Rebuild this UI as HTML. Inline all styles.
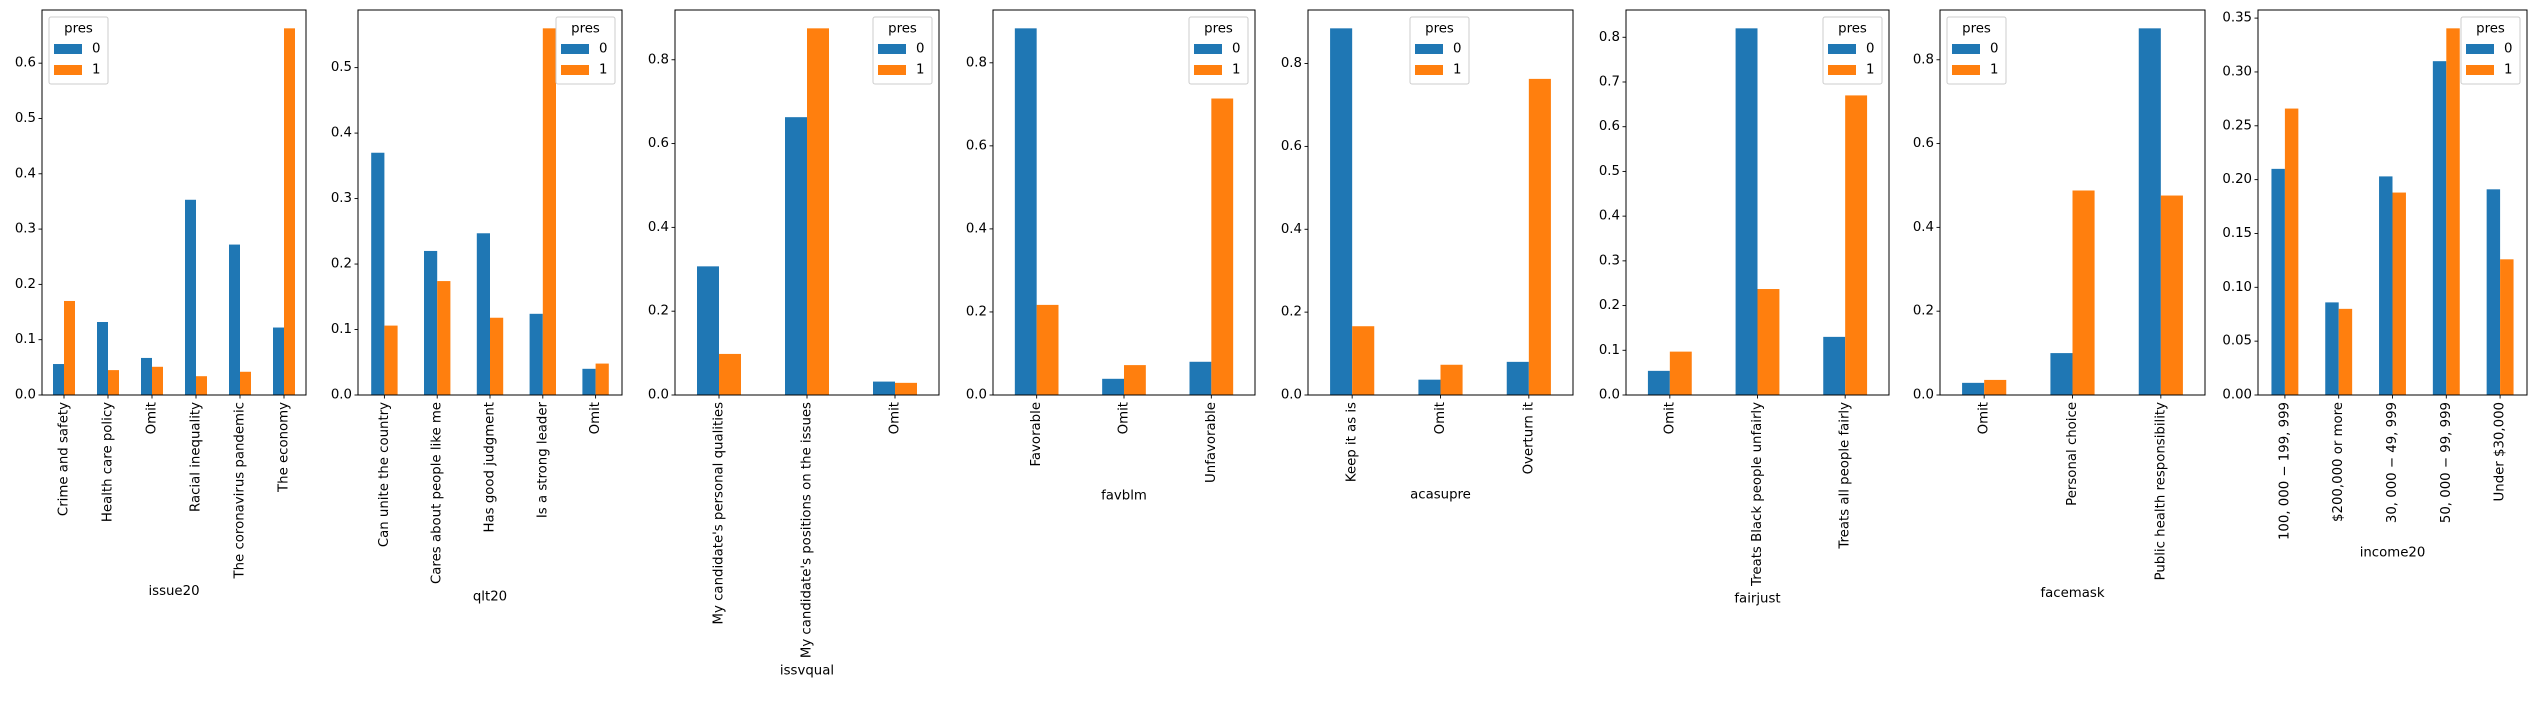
<!DOCTYPE html>
<html><head><meta charset="utf-8"><style>
html,body{margin:0;padding:0;background:#fff;}
svg{display:block;font-family:"DejaVu Sans","Liberation Sans",sans-serif;}
</style></head><body>
<svg id="chart" width="2531" height="701" viewBox="0 0 2531 701" xmlns="http://www.w3.org/2000/svg"></svg>
<script>
const titles = ["issue20","qlt20","issvqual","favblm","acasupre","fairjust","facemask","income20"];
const cats1 = ["Crime and safety","Health care policy","Omit","Racial inequality","The coronavirus pandemic","The economy"];
const cats2 = ["Can unite the country","Cares about people like me","Has good judgment","Is a strong leader","Omit"];
const cats3 = ["My candidate's personal qualities","My candidate's positions on the issues","Omit"];
const cats4 = ["Favorable","Omit","Unfavorable"];
const cats5 = ["Keep it as is","Omit","Overturn it"];
const cats6 = ["Omit","Treats Black people unfairly","Treats all people fairly"];
const cats7 = ["Omit","Personal choice","Public health responsibility"];
const cats8 = ["100, 000 \u2212 199, 999","$200,000 or more","30, 000 \u2212 49, 999","50, 000 \u2212 99, 999","Under $30,000"];
const pres0_1 = [0.056,0.132,0.067,0.353,0.272,0.122];
const pres1_1 = [0.170,0.045,0.051,0.034,0.042,0.663];
const pres0_2 = [0.370,0.220,0.247,0.124,0.040];
const pres1_2 = [0.106,0.174,0.118,0.560,0.048];
const pres0_3 = [0.307,0.663,0.032];
const pres1_3 = [0.098,0.875,0.029];
const pres0_4 = [0.883,0.039,0.080];
const pres1_4 = [0.217,0.072,0.714];
const pres0_5 = [0.885,0.037,0.080];
const pres1_5 = [0.166,0.073,0.763];
const pres0_6 = [0.054,0.820,0.130];
const pres1_6 = [0.097,0.237,0.670];
const pres0_7 = [0.029,0.100,0.875];
const pres1_7 = [0.036,0.488,0.476];
const pres0_8 = [0.210,0.086,0.203,0.310,0.191];
const pres1_8 = [0.266,0.080,0.188,0.3405,0.126];
const tickStep = [0.1,0.1,0.2,0.2,0.2,0.1,0.2,0.05];
const tickDec = [1,1,1,1,1,1,1,2];
const legendPos = ["left","right","right","right","center","right","left","right"];

const cats=[cats1,cats2,cats3,cats4,cats5,cats6,cats7,cats8];
const s0=[pres0_1,pres0_2,pres0_3,pres0_4,pres0_5,pres0_6,pres0_7,pres0_8];
const s1=[pres1_1,pres1_2,pres1_3,pres1_4,pres1_5,pres1_6,pres1_7,pres1_8];
const lefts=[42,358,675,993,1308,1626,1940,2258];
const rights=[306,622,939,1255,1573,1889,2205,2527];
const TOP=10,BOT=395,FS=13.3;
const NS="http://www.w3.org/2000/svg";
const svg=document.getElementById('chart');
function mk(tag,attrs,parent){const e=document.createElementNS(NS,tag);for(const k in attrs)e.setAttribute(k,attrs[k]);(parent||svg).appendChild(e);return e;}

for(let p=0;p<8;p++){
  const g=mk('g',{});
  
  
  const L=lefts[p],R=rights[p],W=R-L,n=cats[p].length;
  const ymax=Math.max(...s0[p],...s1[p])*1.05;
  const y=v=>BOT-(v/ymax)*(BOT-TOP);
  const xc=i=>L+(i+0.5)*W/n;
  const bw=0.25*W/n;
  for(let i=0;i<n;i++){
    const b0=mk('rect',{x:xc(i)-bw,y:y(s0[p][i]),width:bw,height:BOT-y(s0[p][i]),fill:'#1f77b4'},g);
    
    
    const b1=mk('rect',{x:xc(i),y:y(s1[p][i]),width:bw,height:BOT-y(s1[p][i]),fill:'#ff7f0e'},g);
    
    
  }
  const st=tickStep[p];
  for(let k=0;k*st<=ymax+1e-9;k++){
    const v=k*st,yy=y(v);
    mk('line',{x1:L-3.5,x2:L,y1:yy,y2:yy,stroke:'#000','stroke-width':0.9},g);
    const t=mk('text',{x:L-6,y:yy,'text-anchor':'end','dominant-baseline':'central','font-size':FS,fill:'#000'},g);
    t.textContent=v.toFixed(tickDec[p]);
    
    
  }
  let maxLen=0;
  for(let i=0;i<n;i++){
    const x=xc(i);
    mk('line',{x1:x,x2:x,y1:BOT,y2:BOT+3.5,stroke:'#000','stroke-width':0.9},g);
    const t=mk('text',{x:0,y:0,'text-anchor':'end','dominant-baseline':'central','font-size':FS,fill:'#000',transform:`translate(${x},${BOT+7}) rotate(-90)`},g);
    t.textContent=cats[p][i];
    
    
    maxLen=Math.max(maxLen,t.getComputedTextLength());
  }
  const xl=mk('text',{x:L+W/2,y:BOT+7+maxLen+13,'text-anchor':'middle','dominant-baseline':'central','font-size':FS,fill:'#000'},g);
  xl.textContent=titles[p];
  
  
  const fr=mk('rect',{x:L,y:TOP,width:W,height:BOT-TOP,fill:'none',stroke:'#000','stroke-width':1},g);
  
  
  const lw=59,lh=67;
  let lx = legendPos[p]==='left'?L+7:(legendPos[p]==='right'?R-7-lw:L+W/2-lw/2-1);
  const lg=mk('g',{},g);
  
  
  mk('rect',{x:lx,y:17,width:lw,height:lh,rx:2,fill:'#fff','fill-opacity':0.8,stroke:'#ccc','stroke-width':1},lg);
  const tt=mk('text',{x:lx+lw/2,y:29,'text-anchor':'middle','dominant-baseline':'central','font-size':FS,fill:'#000'},lg);
  tt.textContent='pres';
  const cols=['#1f77b4','#ff7f0e'];
  for(let j=0;j<2;j++){
    const e=mk('g',{},lg);
    
    
    mk('rect',{x:lx+5,y:44+21*j,width:28,height:10,fill:cols[j]},e);
    const et=mk('text',{x:lx+43,y:49+21*j,'dominant-baseline':'central','font-size':FS,fill:'#000'},e);
    et.textContent=String(j);
  }
}
</script>
</body></html>
